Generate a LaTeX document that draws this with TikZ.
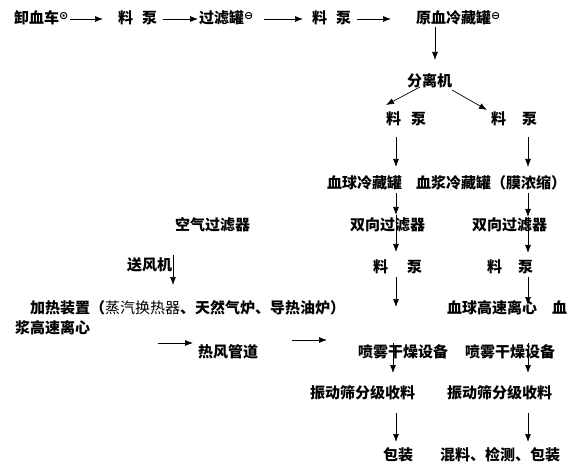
\documentclass[tikz,border=0pt]{standalone}
\usepackage{fontspec}
\setmainfont{Noto Sans CJK SC}
\newfontfamily\symb{DejaVu Sans}
\usetikzlibrary{arrows.meta}
\tikzset{
  lab/.style={anchor=west,inner sep=0pt,font=\fontsize{15}{18}\selectfont\bfseries},
  arr/.style={-{Latex[length=8pt,width=6pt]},line width=0.7pt},
}
\newcommand{\mksup}[1]{\raisebox{4pt}{\symb\bfseries\fontsize{11}{12}\selectfont #1}}
\begin{document}
\begin{tikzpicture}[x=1pt,y=-1pt]
\useasboundingbox[fill=white] (0,0) rectangle (581,465);
% row 1
\node[lab] (r1a) at (14,18) {卸血车\mksup{⊙}};
\node[lab] (r1b) at (118,18) {料\hspace{9pt}泵};
\node[lab] (r1c) at (199,18) {过滤罐\mksup{⊖}};
\node[lab] (r1d) at (312,18) {料\hspace{9pt}泵};
\node[lab] (r1e) at (416,18) {原血冷藏罐\mksup{⊖}};
\node[lab] (fj) at (407,81) {分离机};
\node[lab] (p2l) at (386,119) {料\hspace{10pt}泵};
\node[lab] (p2r) at (491,119) {料\hspace{16pt}泵};
\node[lab] (tank) at (327,183) {血球冷藏罐\hspace{14pt}血浆冷藏罐（膜浓缩）};
\node[lab] (f2l) at (350,225) {双向过滤器};
\node[lab] (f2r) at (472,225) {双向过滤器};
\node[lab] (p3l) at (373,267) {料\hspace{19pt}泵};
\node[lab] (p3r) at (487,267) {料\hspace{16pt}泵};
\node[lab] (heat) at (30,308) {加热装置（{\mdseries 蒸汽换热器}、天然气炉、导热油炉）};
\node[lab] (cent) at (447,308) {血球高速离心\hspace{15pt}血};
\node[lab] (cent2) at (15,328) {浆高速离心};
\node[lab] (air) at (175,225) {空气过滤器};
\node[lab] (fan) at (127,265) {送风机};
\node[lab] (duct) at (198,352) {热风管道};
\node[lab] (spray) at (358,352) {喷雾干燥设备\hspace{17pt}喷雾干燥设备};
\node[lab] (vib1) at (310,393) {振动筛分级收料};
\node[lab] (vib2) at (447,393) {振动筛分级收料};
\node[lab] (pk1) at (383,455) {包装};
\node[lab] (pk2) at (440,455) {混料、检测、包装};
% row 1 arrows
\coordinate (y19) at (0,19);
\draw[arr] ([xshift=1pt]r1a.east |- y19) -- ([xshift=-15pt]r1b.west |- y19);
\draw[arr] ([xshift=6pt]r1b.east |- y19) -- ([xshift=-1pt]r1c.west |- y19);
\draw[arr] ([xshift=10pt]r1c.east |- y19) -- ([xshift=-9pt]r1d.west |- y19);
\draw[arr] ([xshift=6pt]r1d.east |- y19) -- ([xshift=-25pt]r1e.west |- y19);
% separator
\coordinate (a1s) at (435,27); \coordinate (a1e) at (435,60);
\draw[arr] (a1s) -- (a1e);
\coordinate (dl1) at (420,87); \coordinate (dl2) at (386,105);
\coordinate (dr1) at (452,90); \coordinate (dr2) at (487,110);
\draw[arr] (dl1) -- (dl2);
\draw[arr] (dr1) -- (dr2);
% columns
\coordinate (L1) at (396,137); \coordinate (L2) at (396,167);
\coordinate (R1) at (528,137); \coordinate (R2) at (528,167);
\draw[arr] (L1) -- (L2); \draw[arr] (R1) -- (R2);
\coordinate (L3) at (396,193); \coordinate (L4) at (396,215); \coordinate (L5) at (396,252);
\coordinate (R3) at (528,193); \coordinate (R4) at (528,217); \coordinate (R5) at (528,253);
\draw[arr] (L3) -- (L4); \draw[arr] (L4) -- (L5);
\draw[arr] (R3) -- (R4); \draw[arr] (R4) -- (R5);
\coordinate (L6) at (396,277); \coordinate (L7) at (396,307);
\coordinate (R6) at (528,277); \coordinate (R7) at (528,305);
\draw[arr] (L6) -- (L7); \draw[arr] (R6) -- (R7);
% air side
\coordinate (F1) at (173,255); \coordinate (F2) at (173,285);
\draw[arr] (F1) -- (F2);
\coordinate (H1) at (158,343); \coordinate (H2) at (193,343);
\coordinate (H3) at (292,340); \coordinate (H4) at (327,340);
\draw[arr] (H1) -- (H2); \draw[arr] (H3) -- (H4);
% dryers
\coordinate (S1) at (393,343); \coordinate (S2) at (393,373);
\coordinate (S3) at (528,343); \coordinate (S4) at (528,373);
\draw[arr] (S1) -- (S2); \draw[arr] (S3) -- (S4);
\coordinate (V1) at (396,413); \coordinate (V2) at (396,442);
\coordinate (V3) at (528,413); \coordinate (V4) at (528,442);
\draw[arr] (V1) -- (V2); \draw[arr] (V3) -- (V4);
\end{tikzpicture}
\end{document}
